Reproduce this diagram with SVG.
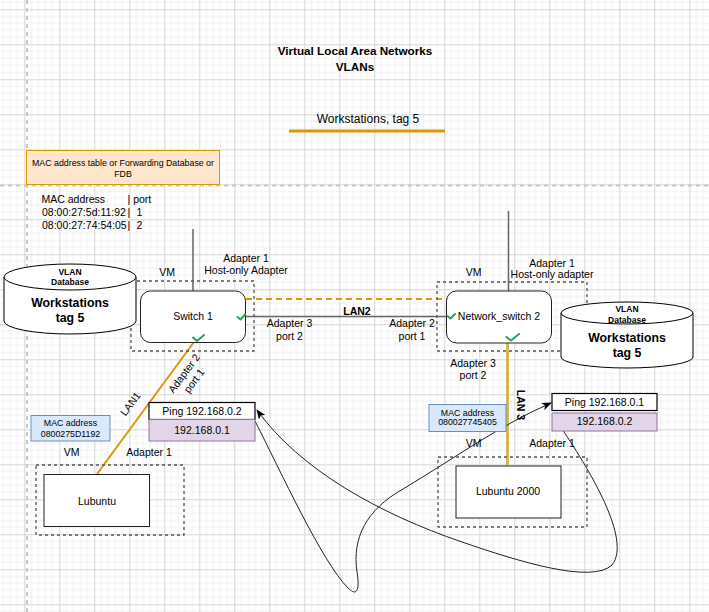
<svg xmlns="http://www.w3.org/2000/svg" width="709" height="612" viewBox="0 0 709 612">
<style>
text{font-family:"Liberation Sans",Arial,Helvetica,sans-serif;font-size:10.5px;fill:#000;text-anchor:middle}
.b{font-weight:bold}
.l{text-anchor:start}
.vm{fill:none;stroke:#555;stroke-width:1.3;stroke-dasharray:3 3}
.sw{fill:#fff;stroke:#222;stroke-width:1}
.ck{fill:none;stroke:#2e9e5b;stroke-width:2;stroke-linejoin:round;stroke-linecap:round}
.g{stroke:#666;stroke-width:1.5;fill:none}
.cur{fill:none;stroke:#222;stroke-width:1}
.cyl{fill:#fff;stroke:#000;stroke-width:1}
.blue{fill:#dae8fc;stroke:#6c8ebf;stroke-width:1}
.pur{fill:#e1d5e7;stroke:#9673a6;stroke-width:1}
.wb{fill:#fff;stroke:#000;stroke-width:1.2}
</style>
<defs>
<pattern id="grid" x="24.3" y="9.3" width="35" height="35" patternUnits="userSpaceOnUse">
<path d="M7 0V35M14 0V35M21 0V35M28 0V35M0 7H35M0 14H35M0 21H35M0 28H35" stroke="#f0f0f0" stroke-width="1" fill="none"/>
<path d="M0.5 0V35M0 0.5H35" stroke="#d6d6d6" stroke-width="1" fill="none"/>
</pattern>
<marker id="arr" markerWidth="10" markerHeight="8" refX="9" refY="4" orient="auto" markerUnits="userSpaceOnUse">
<path d="M0 0L10 4L0 8L2.5 4Z" fill="#000"/>
</marker>
</defs>
<rect width="709" height="612" fill="#fff"/>
<rect width="709" height="612" fill="url(#grid)"/>
<g id="guides">
<line x1="27" y1="0" x2="27" y2="612" stroke="#c8c8c8" stroke-width="2" stroke-dasharray="4 4"/>
<line x1="0" y1="185.5" x2="709" y2="185.5" stroke="#c8c8c8" stroke-width="2" stroke-dasharray="4 4"/>
</g>
<g id="title">
<text class="b" x="355" y="55" style="font-size:11.7px">Virtual Local Area Networks</text>
<text class="b" x="355" y="71" style="font-size:11.7px">VLANs</text>
</g>
<g id="legend">
<text x="368" y="123" style="font-size:12px">Workstations, tag 5</text>
<line x1="289" y1="131" x2="445" y2="131" stroke="#d79b00" stroke-width="3"/>
</g>
<g id="fdb-note">
<rect x="26.5" y="150.5" width="193" height="34" fill="#ffe6cc" stroke="#d79b00" stroke-width="1"/>
<text x="123" y="165.5" style="font-size:8.8px">MAC address table or Forwarding Database or</text>
<text x="123" y="176.5" style="font-size:8.8px">FDB</text>
</g>
<g id="mac-table">
<text class="l" x="41.5" y="203">MAC address</text><text class="l" x="127.5" y="203">| port</text>
<text class="l" x="42" y="215.5">08:00:27:5d:11:92</text><text class="l" x="127.5" y="215.5">|</text><text class="l" x="136.5" y="215.5">1</text>
<text class="l" x="42" y="228.5">08:00:27:74:54:05</text><text class="l" x="127.5" y="228.5">|</text><text class="l" x="136.5" y="228.5">2</text>
</g>
<g id="connectors">
<line class="g" x1="193" y1="229" x2="193" y2="291"/>
<line class="g" x1="508.5" y1="211" x2="508.5" y2="291"/>
<line class="g" x1="245" y1="316.5" x2="447" y2="316.5"/>
<line x1="246" y1="299" x2="447" y2="299" stroke="#d79b00" stroke-width="2" stroke-dasharray="6 4"/>
<line x1="194" y1="342" x2="97" y2="474" stroke="#d79b00" stroke-width="2"/>
<line x1="507.5" y1="343" x2="507.5" y2="465.5" stroke="#d6b656" stroke-width="3"/>
<path class="cur" marker-end="url(#arr)" d="M255 421 C280 470 322 562 348 588 C357 597 360 590 357 572 C352 538 366 510 403 489 C455 458 500 425 551 403"/>
<path class="cur" marker-end="url(#arr)" d="M558 423 C590 470 632 540 612 565 C592 584 520 562 462 542 C380 514 300 470 257 410"/>
</g>
<g id="vm-switch1">
<rect class="vm" x="131" y="281" width="123" height="70"/>
<text x="167" y="276">VM</text>
<text x="246" y="262">Adapter 1</text>
<text x="246" y="274">Host-only Adapter</text>
</g>
<g id="switch1">
<rect class="sw" x="140.5" y="291" width="105" height="51.5" rx="10"/>
<text x="193" y="320">Switch 1</text>
<path class="ck" d="M237.5 317 L240.5 319.5 L245 314.5"/>
<path class="ck" d="M193 337.5 L197 341 L204 335"/>
</g>
<g id="db-left">
<path class="cyl" d="M4 277 A66 13 0 0 1 136 277 L136 321 A66 13 0 0 1 4 321 Z"/>
<path class="cyl" d="M4 277 A66 13 0 0 0 136 277"/>
<text class="b" x="70" y="274.5" style="font-size:8.5px">VLAN</text>
<text class="b" x="70" y="284.5" style="font-size:8.5px">Database</text>
<text class="b" x="70" y="307" style="font-size:12.3px">Workstations</text>
<text class="b" x="70" y="322" style="font-size:12.3px">tag 5</text>
</g>
<g id="vm-switch2">
<rect class="vm" x="437" y="282" width="150" height="69"/>
<text x="473.5" y="276">VM</text>
<text x="552" y="266.5">Adapter 1</text>
<text x="552" y="278">Host-only adapter</text>
</g>
<g id="switch2">
<rect class="sw" x="446.5" y="291" width="105" height="52" rx="10"/>
<text x="499" y="320">Network_switch 2</text>
<path class="ck" d="M447.5 316 L450.5 318.5 L455 314"/>
<path class="ck" d="M506.5 337 L511 340.5 L519 334"/>
</g>
<g id="db-right">
<path class="cyl" d="M561 313 A66 11 0 0 1 693 313 L693 357 A66 11 0 0 1 561 357 Z"/>
<path class="cyl" d="M561 313 A66 11 0 0 0 693 313"/>
<text class="b" x="627" y="311.5" style="font-size:8.5px">VLAN</text>
<text class="b" x="627" y="323" style="font-size:8.5px">Database</text>
<text class="b" x="627" y="342" style="font-size:12.3px">Workstations</text>
<text class="b" x="627" y="356.5" style="font-size:12.3px">tag 5</text>
</g>
<g id="link-labels">
<text class="b" x="357" y="314.5">LAN2</text>
<text x="289.5" y="327">Adapter 3</text>
<text x="289.5" y="340">port 2</text>
<text x="412" y="327">Adapter 2</text>
<text x="412" y="340">port 1</text>
<text x="473" y="367">Adapter 3</text>
<text x="473" y="379">port 2</text>
<text transform="translate(130.5 404) rotate(-53.7)" y="3.5">LAN1</text>
<g transform="translate(189 377) rotate(-53.7)">
<text y="-2.5">Adapter 2</text>
<text y="10">port 1</text>
</g>
<text class="b" transform="translate(520 405) rotate(90)" y="3.5">LAN 3</text>
</g>
<g id="mac-left">
<rect class="blue" x="31" y="415.5" width="79" height="25.5"/>
<text x="70.5" y="425.8" style="font-size:8.8px">MAC address</text>
<text x="70.5" y="436.5" style="font-size:8.8px">0800275D1192</text>
</g>
<g id="ping-left">
<rect class="wb" x="149" y="402.5" width="106" height="17"/>
<text x="202" y="414.7">Ping 192.168.0.2</text>
<rect class="pur" x="149" y="419.5" width="106" height="21.5"/>
<text x="202" y="433.7">192.168.0.1</text>
</g>
<g id="lubuntu">
<text x="71.5" y="456">VM</text>
<text x="149" y="456">Adapter 1</text>
<rect class="vm" x="36" y="465" width="148" height="70"/>
<rect class="sw" x="44" y="474.5" width="105.5" height="52"/>
<text x="97" y="504.5">Lubuntu</text>
</g>
<g id="mac-right">
<rect class="blue" x="429" y="404.5" width="77" height="27"/>
<text x="467.5" y="415.5" style="font-size:8.8px">MAC address</text>
<text x="467.5" y="425" style="font-size:8.8px">080027745405</text>
</g>
<g id="ping-right">
<rect class="wb" x="552" y="393.5" width="105" height="17"/>
<text x="604.5" y="406">Ping 192.168.0.1</text>
<rect class="pur" x="552" y="413" width="105" height="18"/>
<text x="604.5" y="425">192.168.0.2</text>
</g>
<g id="lubuntu2000">
<text x="473.5" y="446.5">VM</text>
<text x="552" y="446.5">Adapter 1</text>
<rect class="vm" x="438" y="457" width="149" height="70"/>
<rect class="sw" x="456" y="466" width="105" height="52"/>
<text x="508" y="494.5">Lubuntu 2000</text>
</g>
</svg>
